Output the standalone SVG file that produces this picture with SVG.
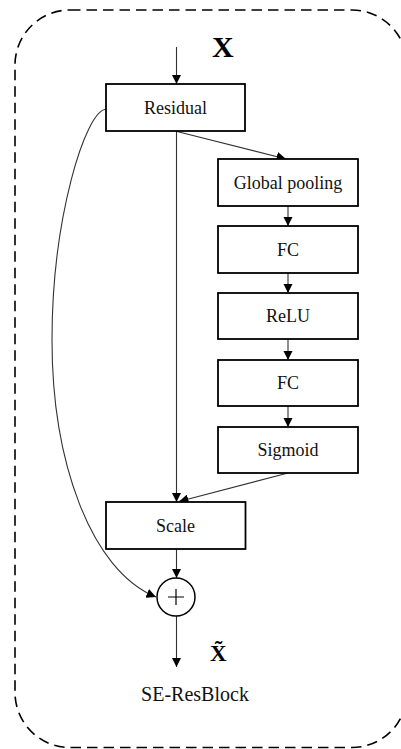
<svg xmlns="http://www.w3.org/2000/svg" width="401" height="749" viewBox="0 0 401 749">
<style>
.box{fill:#fff;stroke:#000;stroke-width:1.8}
.lbl{font-family:"Liberation Serif","Times New Roman",serif;font-size:18px;fill:#111;text-anchor:middle}
.conn{fill:none;stroke:#333;stroke-width:1.1}
.big{font-family:"Liberation Serif","Times New Roman",serif;font-weight:bold;fill:#000}
</style>
<defs>
<marker id="ah" viewBox="0 0 10 10" refX="10" refY="5" markerWidth="9.5" markerHeight="9.5" markerUnits="userSpaceOnUse" orient="auto">
<path d="M0,0 L10,5 L0,10 Z" fill="#000"/>
</marker>
</defs>
<rect x="15" y="10" width="392" height="737.5" rx="55" ry="55" fill="none" stroke="#000" stroke-width="1.6" stroke-dasharray="10.5,6"/>
<g id="connectors">
<line class="conn" x1="176.5" y1="47" x2="176.5" y2="84" marker-end="url(#ah)"/>
<line class="conn" x1="176.5" y1="131" x2="176.5" y2="502" marker-end="url(#ah)"/>
<line class="conn" x1="177" y1="131.5" x2="286" y2="159" marker-end="url(#ah)"/>
<line class="conn" x1="288" y1="206" x2="288" y2="226" marker-end="url(#ah)"/>
<line class="conn" x1="288" y1="273" x2="288" y2="293" marker-end="url(#ah)"/>
<line class="conn" x1="288" y1="339" x2="288" y2="360" marker-end="url(#ah)"/>
<line class="conn" x1="288" y1="406" x2="288" y2="427" marker-end="url(#ah)"/>
<line class="conn" x1="288" y1="473" x2="179" y2="501.5" marker-end="url(#ah)"/>
<line class="conn" x1="176.5" y1="549" x2="176.5" y2="578" marker-end="url(#ah)"/>
<line class="conn" x1="176.5" y1="616" x2="176.5" y2="667" marker-end="url(#ah)"/>
<path class="conn" d="M106.5,109 C85,110 52,220 52,340 C52,460 90,570 156,597" marker-end="url(#ah)"/>
</g>
<g id="residual"><rect class="box" x="106" y="84" width="139" height="47"/><text class="lbl" x="175.5" y="114">Residual</text></g>
<g id="global-pooling"><rect class="box" x="218" y="159" width="140" height="47"/><text class="lbl" x="288" y="189">Global pooling</text></g>
<g id="fc1"><rect class="box" x="218" y="226" width="140" height="47"/><text class="lbl" x="288" y="256">FC</text></g>
<g id="relu"><rect class="box" x="218" y="293" width="140" height="46"/><text class="lbl" x="288" y="322">ReLU</text></g>
<g id="fc2"><rect class="box" x="218" y="360" width="140" height="46"/><text class="lbl" x="288" y="389">FC</text></g>
<g id="sigmoid"><rect class="box" x="218" y="427" width="140" height="46"/><text class="lbl" x="288" y="456">Sigmoid</text></g>
<g id="scale"><rect class="box" x="106" y="502" width="139.5" height="47"/><text class="lbl" x="175.5" y="532">Scale</text></g>
<g id="add"><circle cx="176" cy="597" r="19" fill="#fff" stroke="#000" stroke-width="1.5"/><path d="M168,597 H184 M176,589 V605" stroke="#000" stroke-width="1.2"/></g>
<g id="input-label"><text class="big" x="212" y="57" font-size="30">X</text></g>
<g id="output-label"><text class="big" x="210" y="661" font-size="23">X̃</text></g>
<g id="title"><text class="lbl" x="195" y="701" style="font-size:20px">SE-ResBlock</text></g>
</svg>
